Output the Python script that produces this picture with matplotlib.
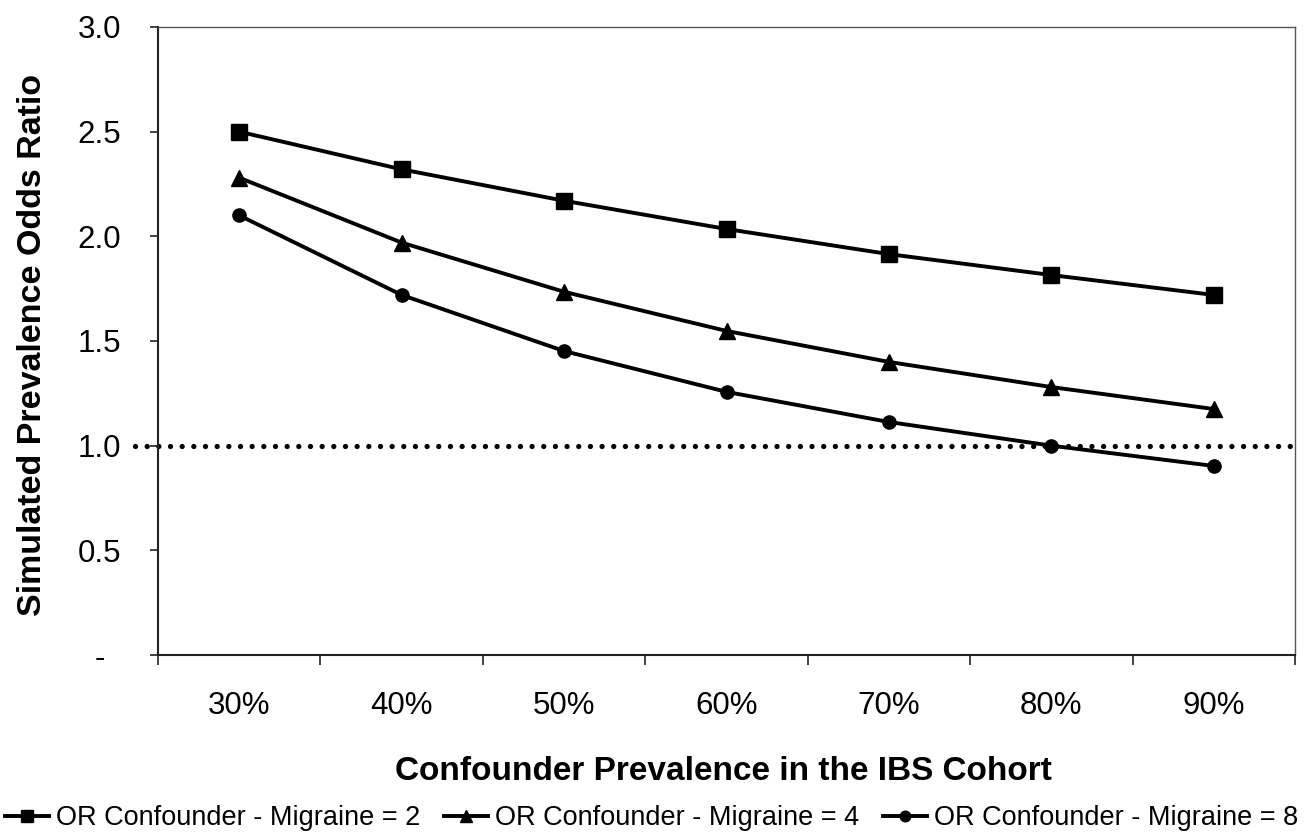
import matplotlib
matplotlib.use("Agg")
import matplotlib.pyplot as plt
import numpy as np

plt.rcParams['font.family'] = ['Liberation Sans', 'DejaVu Sans']

categories = ["30%", "40%", "50%", "60%", "70%", "80%", "90%"]
or_2 = [2.50, 2.32, 2.17, 2.035, 1.915, 1.815, 1.72]
or_4 = [2.28, 1.97, 1.735, 1.548, 1.40, 1.28, 1.175]
or_8 = [2.10, 1.72, 1.452, 1.257, 1.113, 1.00, 0.903]
series_labels = ["OR Confounder - Migraine = 2",
                 "OR Confounder - Migraine = 4",
                 "OR Confounder - Migraine = 8"]
y_ticks = [0.0, 0.5, 1.0, 1.5, 2.0, 2.5, 3.0]
y_ticklabels = ["-", "0.5", "1.0", "1.5", "2.0", "2.5", "3.0"]
reference_value = 1.0

fig = plt.figure(figsize=(13.07, 8.33), dpi=100)
ax = fig.add_axes([158/1307, 1-655/833, (1295-158)/1307, (655-27)/833])

x = np.arange(len(categories))
markers = ['s', '^', 'o']
msizes = [11, 11, 9.5]
for vals, m, ms, lab in zip([or_2, or_4, or_8], markers, msizes, series_labels):
    ax.plot(x, vals, color='black', lw=2.8, marker=m, markersize=ms, label=lab, zorder=3)

ax.plot([-0.64, 6.5], [reference_value, reference_value], color='black', lw=3.8,
        linestyle=(0, (0.01, 2.2)), dash_capstyle='round', clip_on=False, zorder=2)

ax.set_xlim(-0.5, len(categories) - 0.5)
ax.set_ylim(0, 3.0)
ax.set_yticks(y_ticks)
ax.set_yticklabels(y_ticklabels)
ax.set_xticks(x)
ax.set_xticklabels(categories)
ax.set_xticks(np.arange(-0.5, len(categories)), minor=True)
ax.tick_params(axis='x', which='major', length=0, pad=26, labelsize=22.5)
ax.tick_params(axis='x', which='minor', length=7, width=1.2, direction='out', color='#222222')
ax.tick_params(axis='y', which='major', length=6, width=1.2, direction='out', pad=36,
               labelsize=22.5, color='#222222')
for lab in ax.get_yticklabels():
    lab.set_horizontalalignment('center')

for s in ['top', 'right']:
    ax.spines[s].set_color('#555555')
    ax.spines[s].set_linewidth(1.0)
for s in ['left', 'bottom']:
    ax.spines[s].set_color('#222222')
    ax.spines[s].set_linewidth(1.5)

ax.set_xlabel("Confounder Prevalence in the IBS Cohort", fontsize=24, fontweight='bold')
ax.xaxis.set_label_coords(0.497, -0.185)
ax.xaxis.label.set_verticalalignment('center')
ax.set_ylabel("Simulated Prevalence Odds Ratio", fontsize=24.5, fontweight='bold')
ax.yaxis.set_label_coords(-0.097, 0.494)

handles, labels = ax.get_legend_handles_labels()
fig.legend(handles, labels, loc='center', bbox_to_anchor=(0.4985, 1 - 818/833), ncol=3,
           frameon=False, fontsize=19.5, handlelength=1.65, handletextpad=0.26,
           columnspacing=0.85, markerscale=0.8, borderpad=0, borderaxespad=0)

fig.savefig("out.png", dpi=100, facecolor='white')
